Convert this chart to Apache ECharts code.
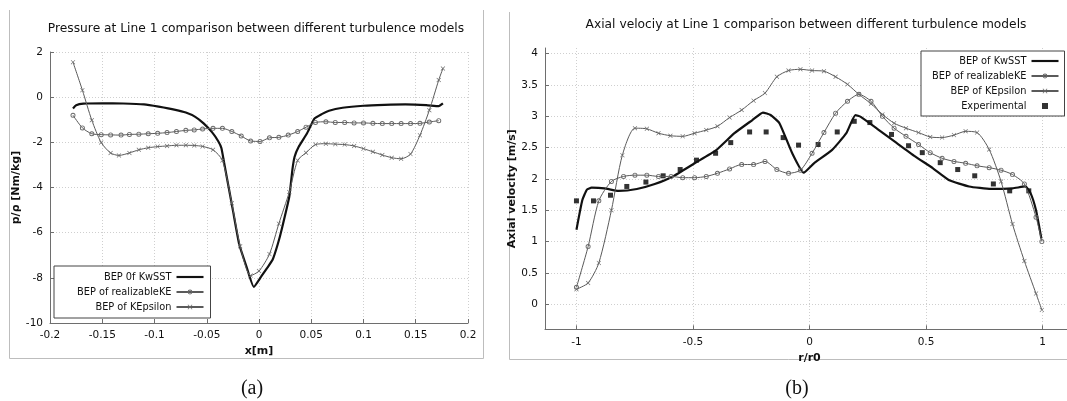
<!DOCTYPE html>
<html>
<head>
<meta charset="utf-8">
<script src="https://cdn.jsdelivr.net/npm/echarts@6/dist/echarts.min.js"></script>
<style>
html, body { margin: 0; padding: 0; background: #fff; }
#chart { width: 1067px; height: 401px; }
</style>
</head>
<body>
<div id="chart"></div>
<script>
// === ДАННЫЕ: (a) давление на линии 1, [x м, p/ρ Нм/кг] ===
const pressureKwSST = [[-0.178,-0.5],[-0.175,-0.36],[-0.168,-0.29],[-0.15,-0.27],[-0.13,-0.28],[-0.11,-0.32],[-0.096,-0.42],[-0.08,-0.56],[-0.07,-0.68],[-0.061,-0.87],[-0.053,-1.16],[-0.045,-1.55],[-0.039,-1.95],[-0.036,-2.25],[-0.033,-3.0],[-0.029,-4.0],[-0.025,-5.0],[-0.019,-6.5],[-0.012,-7.5],[-0.005,-8.4],[0.002,-7.95],[0.008,-7.55],[0.013,-7.2],[0.018,-6.5],[0.022,-5.8],[0.029,-4.4],[0.032,-3.2],[0.034,-2.65],[0.038,-2.2],[0.046,-1.6],[0.053,-0.95],[0.06,-0.75],[0.067,-0.6],[0.08,-0.47],[0.1,-0.38],[0.12,-0.34],[0.14,-0.32],[0.16,-0.35],[0.172,-0.4],[0.176,-0.28]];
const pressureRealizable = [[-0.178,-0.8],[-0.169,-1.36],[-0.16,-1.62],[-0.151,-1.66],[-0.142,-1.67],[-0.132,-1.68],[-0.124,-1.65],[-0.115,-1.64],[-0.106,-1.62],[-0.097,-1.6],[-0.088,-1.57],[-0.079,-1.52],[-0.07,-1.47],[-0.062,-1.45],[-0.054,-1.41],[-0.044,-1.38],[-0.035,-1.38],[-0.026,-1.52],[-0.017,-1.72],[-0.008,-1.94],[0.001,-1.96],[0.01,-1.8],[0.019,-1.78],[0.028,-1.68],[0.037,-1.52],[0.045,-1.33],[0.054,-1.12],[0.064,-1.09],[0.073,-1.12],[0.082,-1.12],[0.091,-1.14],[0.1,-1.14],[0.109,-1.16],[0.118,-1.17],[0.127,-1.17],[0.136,-1.17],[0.145,-1.17],[0.154,-1.16],[0.163,-1.1],[0.172,-1.04]];
const pressureKEpsilon = [[-0.178,1.55],[-0.169,0.31],[-0.16,-1.02],[-0.151,-2.01],[-0.142,-2.47],[-0.134,-2.58],[-0.124,-2.47],[-0.115,-2.33],[-0.106,-2.24],[-0.097,-2.19],[-0.088,-2.16],[-0.079,-2.13],[-0.07,-2.13],[-0.062,-2.14],[-0.054,-2.18],[-0.044,-2.33],[-0.035,-2.8],[-0.026,-4.7],[-0.018,-6.6],[-0.008,-7.9],[0.0,-7.7],[0.01,-6.95],[0.019,-5.6],[0.029,-4.2],[0.037,-2.8],[0.045,-2.46],[0.054,-2.1],[0.064,-2.06],[0.073,-2.08],[0.082,-2.1],[0.091,-2.16],[0.1,-2.28],[0.109,-2.42],[0.118,-2.56],[0.127,-2.68],[0.136,-2.73],[0.145,-2.52],[0.154,-1.69],[0.163,-0.58],[0.172,0.76],[0.176,1.27]];

// === ДАННЫЕ: (b) осевая скорость, [r/r0, м/с] ===
const velocityKwSST = [[-1.0,1.19],[-0.975,1.66],[-0.955,1.83],[-0.935,1.86],[-0.88,1.85],[-0.819,1.81],[-0.741,1.84],[-0.664,1.92],[-0.586,2.04],[-0.493,2.25],[-0.4,2.46],[-0.322,2.73],[-0.245,2.94],[-0.2,3.06],[-0.167,3.02],[-0.129,2.89],[-0.074,2.41],[-0.025,2.1],[0.019,2.25],[0.096,2.46],[0.158,2.73],[0.197,3.02],[0.22,2.99],[0.298,2.78],[0.375,2.57],[0.453,2.36],[0.53,2.17],[0.6,1.98],[0.685,1.88],[0.778,1.84],[0.871,1.85],[0.926,1.88],[0.949,1.77],[0.972,1.5],[0.995,1.05]];
const velocityRealizable = [[-1.0,0.27],[-0.95,0.92],[-0.904,1.65],[-0.85,1.96],[-0.798,2.04],[-0.749,2.06],[-0.698,2.06],[-0.648,2.04],[-0.594,2.04],[-0.544,2.02],[-0.493,2.02],[-0.443,2.04],[-0.395,2.09],[-0.343,2.16],[-0.291,2.23],[-0.24,2.23],[-0.191,2.28],[-0.14,2.15],[-0.09,2.09],[-0.039,2.14],[0.011,2.41],[0.062,2.74],[0.112,3.05],[0.163,3.24],[0.212,3.35],[0.264,3.24],[0.313,3.0],[0.363,2.81],[0.414,2.68],[0.468,2.55],[0.518,2.42],[0.569,2.33],[0.62,2.28],[0.67,2.25],[0.719,2.21],[0.771,2.18],[0.822,2.14],[0.871,2.07],[0.922,1.92],[0.972,1.39],[0.997,1.0]];
const velocityKEpsilon = [[-1.0,0.24],[-0.95,0.34],[-0.904,0.66],[-0.85,1.5],[-0.803,2.38],[-0.749,2.81],[-0.698,2.8],[-0.648,2.73],[-0.597,2.69],[-0.544,2.68],[-0.493,2.73],[-0.443,2.78],[-0.395,2.84],[-0.343,2.98],[-0.291,3.1],[-0.24,3.25],[-0.191,3.37],[-0.14,3.63],[-0.09,3.73],[-0.039,3.75],[0.011,3.73],[0.062,3.72],[0.112,3.63],[0.163,3.51],[0.212,3.35],[0.264,3.2],[0.313,3.03],[0.363,2.89],[0.414,2.81],[0.468,2.74],[0.518,2.67],[0.569,2.66],[0.62,2.7],[0.67,2.76],[0.719,2.74],[0.771,2.47],[0.822,1.96],[0.871,1.28],[0.922,0.69],[0.972,0.17],[0.997,-0.09]];
const velocityExperimental = [[-1.0,1.65],[-0.927,1.65],[-0.854,1.74],[-0.784,1.88],[-0.702,1.95],[-0.628,2.05],[-0.555,2.15],[-0.485,2.3],[-0.403,2.41],[-0.338,2.58],[-0.257,2.75],[-0.186,2.75],[-0.113,2.66],[-0.047,2.54],[0.037,2.55],[0.119,2.75],[0.192,2.92],[0.259,2.9],[0.352,2.71],[0.425,2.53],[0.484,2.42],[0.561,2.26],[0.636,2.15],[0.709,2.05],[0.789,1.92],[0.859,1.81],[0.941,1.81]];

// === ПОДПИСИ И ДЕЛЕНИЯ ОСЕЙ ===
const leftTitle = 'Pressure at Line 1 comparison between different turbulence models';
const rightTitle = 'Axial velociy at Line 1 comparison between different turbulence models';
const leftNames = ['BEP 0f KwSST', 'BEP of realizableKE', 'BEP of KEpsilon'];
const rightNames = ['BEP of KwSST', 'BEP of realizableKE', 'BEP of KEpsilon', 'Experimental'];
const rightXTicks = [-1, -0.5, 0, 0.5, 1];
const rightYTicks = [0, 0.5, 1, 1.5, 2, 2.5, 3, 3.5, 4];

// === СТИЛИ ===
const FONT = 'DejaVu Sans';
const AXIS_COLOR = '#6e6e6e';
const LINE_COLOR = '#5a5a5a';
const MARK_COLOR = '#6a6a6a';
// кольцо (внешний контур по часовой, внутренний против) — тонкий пустой кружок
const ringPath = 'path://M5,0A5,5 0 1,1 5,10A5,5 0 1,1 5,0Z M5,1.8A3.2,3.2 0 1,0 5,8.2A3.2,3.2 0 1,0 5,1.8Z';
const crossPath = 'path://M0,1L1,0L5,4L9,0L10,1L6,5L10,9L9,10L5,6L1,10L0,9L4,5Z';
const squarePath = 'path://M0,0L10,0L10,10L0,10Z';
const linePath = 'path://M0,0L30,0L30,2.4L0,2.4Z';

function makeAxis(gridIndex, opts) {
    return Object.assign({
        type: 'value',
        gridIndex: gridIndex,
        nameLocation: 'middle',
        nameTextStyle: { fontFamily: FONT, fontSize: 11, fontWeight: 'bold', color: '#111' },
        axisLine: { show: true, onZero: false, lineStyle: { color: AXIS_COLOR, width: 1 } },
        axisTick: { show: true, inside: true, length: 4, lineStyle: { color: AXIS_COLOR } },
        axisLabel: { fontFamily: FONT, fontSize: 10.5, color: '#111', margin: 7 },
        splitLine: { show: true, lineStyle: { color: '#cfcfcf', type: [1, 2], width: 1 } }
    }, opts);
}

function makeLegend(left, top, names, padding) {
    return {
        orient: 'vertical',
        left: left,
        top: top,
        align: 'right',
        itemWidth: 27,
        itemHeight: 6,
        itemGap: 5,
        padding: padding,
        borderColor: '#444',
        borderWidth: 1,
        borderRadius: 0,
        backgroundColor: '#fff',
        selectedMode: false,
        textStyle: { fontFamily: FONT, fontSize: 9.8, color: '#111' },
        data: names.map(n => {
            if (n.indexOf('KwSST') >= 0) return { name: n, icon: linePath };
            if (n === 'Experimental') return { name: n, icon: squarePath };
            return n;
        })
    };
}

function lineSeries(name, data, xi, opts) {
    return Object.assign({
        type: 'line',
        name: name,
        data: data,
        xAxisIndex: xi,
        yAxisIndex: xi,
        smooth: 0.25,
        animation: false,
        lineStyle: { color: LINE_COLOR, width: 1 },
        itemStyle: { color: MARK_COLOR }
    }, opts);
}

// === ИНИЦИАЛИЗАЦИЯ ===
const chart = echarts.init(document.getElementById('chart'), null, { renderer: 'canvas' });

const titleStyle = { fontFamily: FONT, fontSize: 12.25, fontWeight: 'normal', color: '#111' };
const captionStyle = { fontFamily: 'Liberation Serif', fontSize: 20, fontWeight: 'normal', color: '#111' };

const option = {
    animation: false,
    backgroundColor: '#fff',
    title: [
        { text: leftTitle, left: 256, top: 23, textAlign: 'center', padding: 0, textStyle: titleStyle },
        { text: rightTitle, left: 806, top: 19, textAlign: 'center', padding: 0, textStyle: titleStyle },
        { text: '(a)', left: 252, top: 379, textAlign: 'center', padding: 0, textStyle: captionStyle },
        { text: '(b)', left: 797, top: 379, textAlign: 'center', padding: 0, textStyle: captionStyle }
    ],
    grid: [
        { left: 50, top: 52, width: 418, height: 271, outerBoundsMode: 'none' },
        { left: 545, top: 48, width: 529, height: 281.3, outerBoundsMode: 'none' }
    ],
    xAxis: [
        makeAxis(0, { min: -0.2, max: 0.2, interval: 0.05, name: 'x[m]', nameGap: 21 }),
        makeAxis(1, { min: -1.135, max: 1.135, name: 'r/r0', nameGap: 14,
            axisLabel: { fontFamily: FONT, fontSize: 10.5, color: '#111', margin: 7, customValues: rightXTicks },
            axisTick: { show: true, inside: true, length: 4, lineStyle: { color: AXIS_COLOR }, customValues: rightXTicks } })
    ],
    yAxis: [
        makeAxis(0, { min: -10, max: 2, interval: 2, name: 'p/ρ [Nm/kg]', nameGap: 28 }),
        makeAxis(1, { min: -0.4, max: 4.09, name: 'Axial velocity [m/s]', nameGap: 18,
            axisLabel: { fontFamily: FONT, fontSize: 10.5, color: '#111', margin: 7, customValues: rightYTicks },
            axisTick: { show: true, inside: true, length: 4, lineStyle: { color: AXIS_COLOR }, customValues: rightYTicks } })
    ],
    legend: [
        makeLegend(54, 266, leftNames, [6, 6, 6, 23]),
        makeLegend(921, 51, rightNames, [5, 5, 5, 11])
    ],
    graphic: [
        { type: 'polyline', silent: true, shape: { points: [[9.5, 10], [9.5, 358.5], [483.5, 358.5], [483.5, 10]] },
          style: { stroke: '#bdbdbd', lineWidth: 1, fill: null } },
        { type: 'polyline', silent: true, shape: { points: [[509.5, 12], [509.5, 359.5], [1070, 359.5]] },
          style: { stroke: '#bdbdbd', lineWidth: 1, fill: null } }
    ],
    series: [
        lineSeries(leftNames[0], pressureKwSST, 0, { symbol: 'none', smooth: 0.15,
            lineStyle: { color: '#111', width: 2.2 }, itemStyle: { color: '#111' } }),
        lineSeries(leftNames[1], pressureRealizable, 0, { symbol: ringPath, symbolSize: 5 }),
        lineSeries(leftNames[2], pressureKEpsilon, 0, { symbol: crossPath, symbolSize: 4.5 }),
        lineSeries(rightNames[0], velocityKwSST, 1, { symbol: 'none', smooth: 0.15,
            lineStyle: { color: '#111', width: 2.2 }, itemStyle: { color: '#111' } }),
        lineSeries(rightNames[1], velocityRealizable, 1, { symbol: ringPath, symbolSize: 5 }),
        lineSeries(rightNames[2], velocityKEpsilon, 1, { symbol: crossPath, symbolSize: 4.5 }),
        {
            type: 'scatter',
            name: rightNames[3],
            data: velocityExperimental,
            xAxisIndex: 1,
            yAxisIndex: 1,
            symbol: 'rect',
            symbolSize: 5,
            itemStyle: { color: '#000' },
            animation: false
        }
    ]
};

chart.setOption(option);
</script>
</body>
</html>
